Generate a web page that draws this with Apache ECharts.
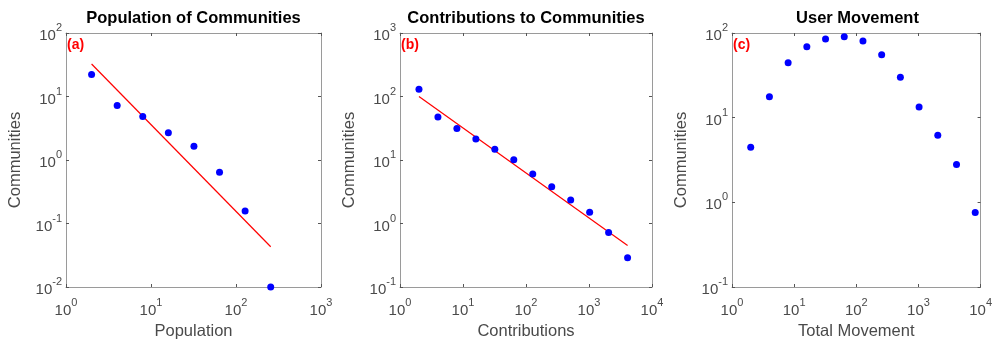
<!DOCTYPE html>
<html><head><meta charset="utf-8">
<script src="https://cdn.jsdelivr.net/npm/echarts@6/dist/echarts.min.js"></script>
<style>html,body{margin:0;padding:0;background:#fff}#c{width:995px;height:345px}</style>
</head><body><div id="c"></div>
<script>
// ---- data ----
const popX = [2, 4, 8, 16, 32, 64, 128, 256];
const popY = [22.2, 7.2, 4.86, 2.68, 1.64, 0.64, 0.158, 0.01];
const popFitX = [2, 256];
const popFitY = [32.5, 0.043];

const contX = [2, 4, 8, 16, 32, 64, 128, 256, 512, 1024, 2048, 4096];
const contY = [130, 47.5, 31.3, 21.4, 14.8, 10.1, 6.0, 3.78, 2.34, 1.51, 0.72, 0.29];
const contFitX = [2, 4096];
const contFitY = [100, 0.45];

const moveX = [2, 4, 8, 16, 32, 64, 128, 256, 512, 1024, 2048, 4096, 8192];
const moveY = [4.47, 17.7, 44.6, 69, 85, 90.6, 80.6, 55.3, 30, 13.4, 6.2, 2.8, 0.76];

const titles = ['Population of Communities', 'Contributions to Communities', 'User Movement'];
const panelTags = ['(a)', '(b)', '(c)'];
const xNames = ['Population', 'Contributions', 'Total Movement'];
const yName = 'Communities';
const xRanges = [[1, 1000], [1, 10000], [1, 10000]];
const yRanges = [[0.01, 100], [0.1, 1000], [0.1, 100]];

// ---- layout ----
const grids = [
  {left: 66, top: 33, width: 255, height: 255},
  {left: 400, top: 33, width: 252, height: 255},
  {left: 732, top: 33, width: 251, height: 255}
];
const FONT = 'Liberation Sans, Arial, Helvetica, sans-serif';
const AX = '#9a9a9a';
const TXT = '#4a4a4a';

function fmt(v) {
  const e = Math.round(Math.log10(v));
  return '{b|10}{s|' + e + '}';
}
const rich = {
  b: {fontSize: 15, fontFamily: FONT, color: TXT, lineHeight: 21, verticalAlign: 'bottom'},
  s: {fontSize: 11, fontFamily: FONT, color: TXT, lineHeight: 12, verticalAlign: 'top'}
};

const xAxes = [], yAxes = [], series = [], graphics = [];
grids.forEach((g, i) => {
  xAxes.push({
    gridIndex: i, type: 'log', logBase: 10, min: xRanges[i][0], max: xRanges[i][1], interval: 1,
    name: xNames[i], nameLocation: 'middle', nameGap: 36,
    nameTextStyle: {fontSize: 16.5, fontFamily: FONT, color: TXT},
    axisLine: {show: true, lineStyle: {color: AX, width: 1}},
    axisTick: {show: true, inside: true, length: 3, lineStyle: {color: '#555'}},
    axisLabel: {formatter: fmt, rich: rich, margin: 10},
    splitLine: {show: false}
  });
  xAxes.push({
    gridIndex: i, type: 'log', logBase: 10, min: xRanges[i][0], max: xRanges[i][1], interval: 1,
    position: 'top',
    axisLine: {show: true, lineStyle: {color: AX, width: 1}},
    axisTick: {show: true, inside: true, length: 3, lineStyle: {color: '#555'}},
    axisLabel: {show: false}, splitLine: {show: false}
  });
  yAxes.push({
    gridIndex: i, type: 'log', logBase: 10, min: yRanges[i][0], max: yRanges[i][1], interval: 1,
    name: yName, nameLocation: 'middle', nameGap: 42, nameRotate: 90,
    nameTextStyle: {fontSize: 16.5, fontFamily: FONT, color: TXT},
    axisLine: {show: true, lineStyle: {color: AX, width: 1}},
    axisTick: {show: true, inside: true, length: 3, lineStyle: {color: '#555'}},
    axisLabel: {formatter: fmt, rich: rich, margin: 4},
    splitLine: {show: false}
  });
  yAxes.push({
    gridIndex: i, type: 'log', logBase: 10, min: yRanges[i][0], max: yRanges[i][1], interval: 1,
    position: 'right',
    axisLine: {show: true, lineStyle: {color: AX, width: 1}},
    axisTick: {show: true, inside: true, length: 3, lineStyle: {color: '#555'}},
    axisLabel: {show: false}, splitLine: {show: false}
  });
  graphics.push({
    type: 'text', x: g.left + g.width / 2, y: 18,
    style: {text: titles[i], font: 'bold 16.5px ' + FONT, fill: '#000', textAlign: 'center', textVerticalAlign: 'middle'}
  });
  graphics.push({
    type: 'text', x: g.left + 1, y: 45,
    style: {text: panelTags[i], font: 'bold 14px ' + FONT, fill: '#ff0000', textAlign: 'left', textVerticalAlign: 'middle'}
  });
});

function zip(a, b) { return a.map((v, k) => [v, b[k]]); }
const dotStyle = {type: 'scatter', symbol: 'circle', symbolSize: 7, itemStyle: {color: '#0000ff', opacity: 1}, z: 3, silent: true};
const lineStyle = {type: 'line', symbol: 'none', lineStyle: {color: '#ff0000', width: 1.2}, z: 2, silent: true};

series.push(Object.assign({}, lineStyle, {xAxisIndex: 0, yAxisIndex: 0, data: zip(popFitX, popFitY)}));
series.push(Object.assign({}, dotStyle, {xAxisIndex: 0, yAxisIndex: 0, data: zip(popX, popY)}));
series.push(Object.assign({}, lineStyle, {xAxisIndex: 2, yAxisIndex: 2, data: zip(contFitX, contFitY)}));
series.push(Object.assign({}, dotStyle, {xAxisIndex: 2, yAxisIndex: 2, data: zip(contX, contY)}));
series.push(Object.assign({}, dotStyle, {xAxisIndex: 4, yAxisIndex: 4, data: zip(moveX, moveY)}));

const chart = echarts.init(document.getElementById('c'), null, {renderer: 'canvas'});
chart.setOption({
  animation: false,
  backgroundColor: '#fff',
  grid: grids,
  xAxis: xAxes,
  yAxis: yAxes,
  series: series,
  graphic: graphics
});
</script></body></html>
